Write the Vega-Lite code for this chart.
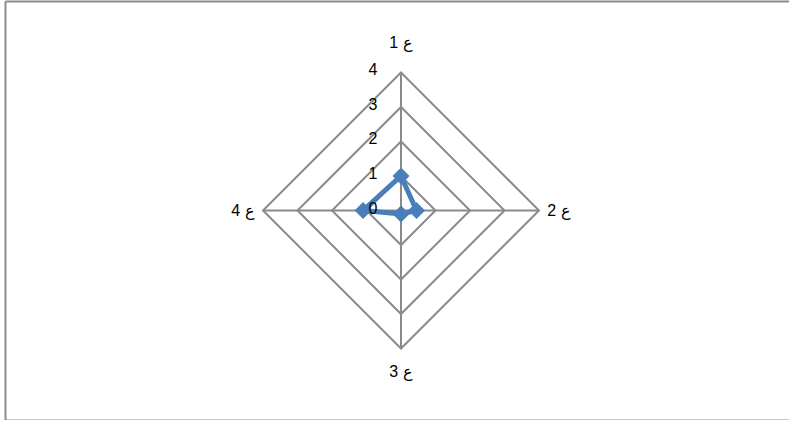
{
  "$schema": "https://vega.github.io/schema/vega-lite/v6.json",
  "width": 784,
  "height": 419,
  "autosize": {"type": "none"},
  "padding": {"left": 5, "top": 1, "right": 0, "bottom": 0},
  "background": "white",
  "config": {
    "view": {"stroke": null},
    "axis": {"ticks": false, "labels": false, "grid": false, "title": null, "domainColor": "#8c8c8c", "domainWidth": 2, "offset": 0}
  },
  "resolve": {"axis": {"x": "independent"}},
  "datasets": {
    "series": [
      {"axis": "ع 1", "idx": 0, "value": 1},
      {"axis": "ع 2", "idx": 1, "value": 0.45},
      {"axis": "ع 3", "idx": 2, "value": 0.1},
      {"axis": "ع 4", "idx": 3, "value": 1.1}
    ],
    "rings": [
      {"ring": 1, "idx": 0}, {"ring": 1, "idx": 1}, {"ring": 1, "idx": 2}, {"ring": 1, "idx": 3},
      {"ring": 2, "idx": 0}, {"ring": 2, "idx": 1}, {"ring": 2, "idx": 2}, {"ring": 2, "idx": 3},
      {"ring": 3, "idx": 0}, {"ring": 3, "idx": 1}, {"ring": 3, "idx": 2}, {"ring": 3, "idx": 3},
      {"ring": 4, "idx": 0}, {"ring": 4, "idx": 1}, {"ring": 4, "idx": 2}, {"ring": 4, "idx": 3}
    ],
    "ticks": [{"t": 0}, {"t": 1}, {"t": 2}, {"t": 3}, {"t": 4}]
  },
  "layer": [
    {
      "data": {"name": "rings"},
      "transform": [
        {"calculate": "datum.ring * round(sin(datum.idx * PI / 2))", "as": "rx"},
        {"calculate": "datum.ring * round(cos(datum.idx * PI / 2))", "as": "ry"}
      ],
      "mark": {"type": "line", "interpolate": "linear-closed", "color": "#8a8a8a", "strokeWidth": 2},
      "encoding": {
        "x": {"field": "rx", "type": "quantitative", "scale": {"domain": [-11.478, 11.246], "nice": false, "zero": false}, "axis": {"orient": "bottom"}},
        "y": {"field": "ry", "type": "quantitative", "scale": {"domain": [-6.072, 6.072], "nice": false, "zero": false}, "axis": {"orient": "left"}},
        "detail": {"field": "ring", "type": "nominal"},
        "order": {"field": "idx", "type": "quantitative"}
      }
    },
    {
      "data": {"name": "series"},
      "transform": [
        {"calculate": "4 * round(sin(datum.idx * PI / 2))", "as": "sx"},
        {"calculate": "4 * round(cos(datum.idx * PI / 2))", "as": "sy"}
      ],
      "mark": {"type": "rule", "color": "#8a8a8a", "strokeWidth": 2},
      "encoding": {
        "x": {"field": "sx", "type": "quantitative", "axis": {"orient": "top"}},
        "y": {"field": "sy", "type": "quantitative"},
        "x2": {"datum": 0},
        "y2": {"datum": 0}
      }
    },
    {
      "data": {"name": "series"},
      "transform": [
        {"calculate": "datum.value * round(sin(datum.idx * PI / 2))", "as": "px"},
        {"calculate": "datum.value * round(cos(datum.idx * PI / 2))", "as": "py"}
      ],
      "mark": {"type": "line", "interpolate": "linear-closed", "color": "#4a7ebb", "strokeWidth": 5},
      "encoding": {
        "x": {"field": "px", "type": "quantitative", "axis": null},
        "y": {"field": "py", "type": "quantitative"},
        "order": {"field": "idx", "type": "quantitative"}
      }
    },
    {
      "data": {"name": "series"},
      "transform": [
        {"calculate": "datum.value * round(sin(datum.idx * PI / 2))", "as": "px"},
        {"calculate": "datum.value * round(cos(datum.idx * PI / 2))", "as": "py"}
      ],
      "mark": {"type": "point", "shape": "diamond", "filled": true, "color": "#4a7ebb", "opacity": 1, "size": 290},
      "encoding": {
        "x": {"field": "px", "type": "quantitative", "axis": null},
        "y": {"field": "py", "type": "quantitative"}
      }
    },
    {
      "data": {"name": "ticks"},
      "transform": [{"calculate": "0", "as": "zx"}],
      "mark": {"type": "text", "align": "center", "baseline": "middle", "dx": -28, "dy": -2, "font": "Liberation Sans", "fontSize": 16, "color": "#000000"},
      "encoding": {
        "x": {"field": "zx", "type": "quantitative", "axis": null},
        "y": {"field": "t", "type": "quantitative"},
        "text": {"field": "t", "type": "nominal"}
      }
    },
    {
      "data": {"name": "series"},
      "transform": [
        {"calculate": "datum.idx == 0 ? 4.86 : (datum.idx == 2 ? 4.68 : 4.58)", "as": "lr"},
        {"calculate": "datum.lr * round(sin(datum.idx * PI / 2))", "as": "lx"},
        {"calculate": "datum.lr * round(cos(datum.idx * PI / 2))", "as": "ly"}
      ],
      "mark": {"type": "text", "align": "center", "baseline": "middle", "font": "Liberation Sans", "fontSize": 16, "color": "#000000"},
      "encoding": {
        "x": {"field": "lx", "type": "quantitative", "axis": null},
        "y": {"field": "ly", "type": "quantitative"},
        "text": {"field": "axis", "type": "nominal"}
      }
    }
  ]
}
